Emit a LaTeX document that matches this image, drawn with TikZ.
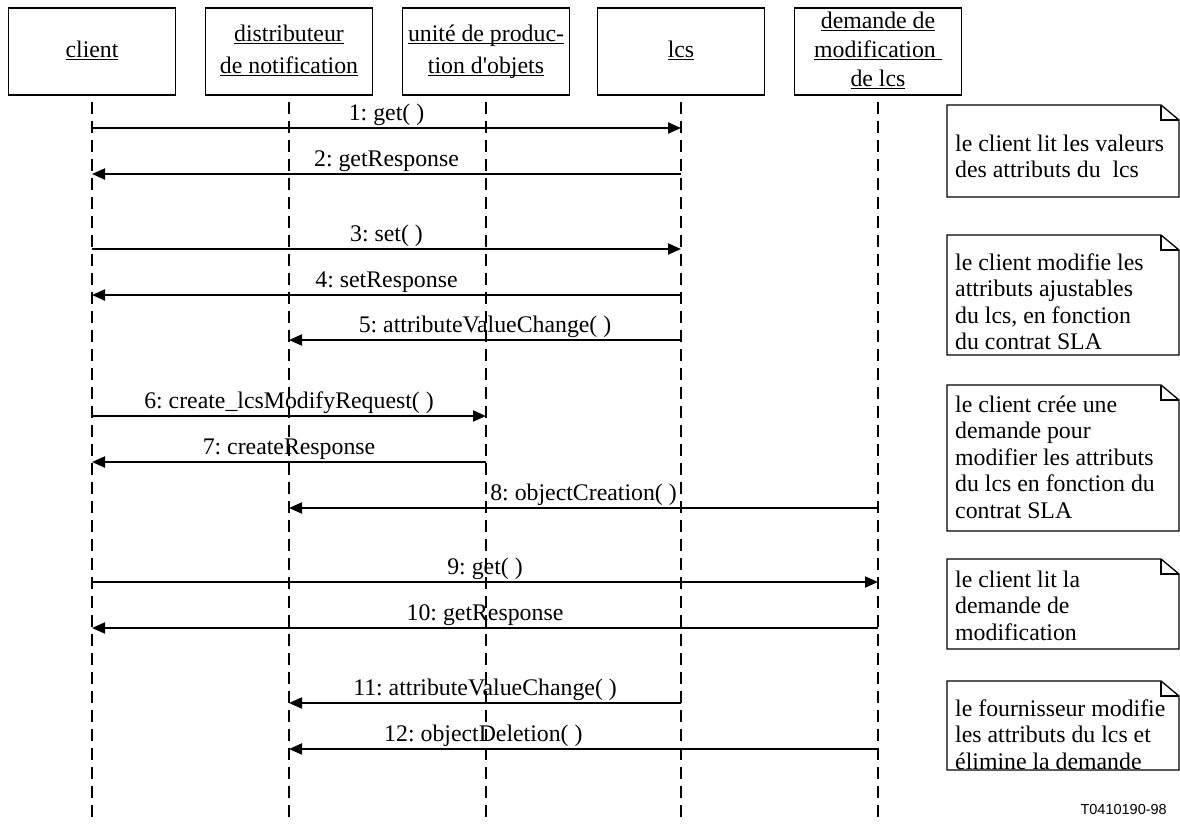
\documentclass[tikz,border=0pt]{standalone}
\usepackage{fontspec}
\setmainfont{Liberation Serif}
\newfontfamily\sansf{Liberation Sans}
\usetikzlibrary{arrows.meta}
\newcommand\headfont{\fontsize{23.8}{32}\selectfont}
\newcommand\headfontb{\fontsize{23.8}{29}\selectfont}
\newcommand\lblfont{\fontsize{23.8}{26.6}\selectfont}
\newcommand\ulw[1]{\underline{\smash{#1}}}
\frenchspacing
\begin{document}
\frenchspacing
\begin{tikzpicture}[x=1pt,y=-1pt,
  head/.style={draw, line width=1.3pt, minimum width=167pt, minimum height=87pt, inner sep=0pt, font=\headfont},
  life/.style={line width=2pt, dash pattern=on 12pt off 7pt},
  msg/.style={line width=2pt, -{Triangle[length=13pt,width=11pt]}},
  lbl/.style={font=\lblfont, anchor=base, inner sep=0pt, yshift=8pt},
  notebox/.style={anchor=north west, minimum width=232pt, inner sep=0pt, outer sep=0pt},
  noteline/.style={line width=1.3pt},
  notetext/.style={anchor=base west, inner sep=0pt, font=\lblfont}]
\useasboundingbox (0,0) rectangle (1180,823);

% headers
\node[head] (client) at (92,51.5) {\begin{tabular}{@{}c@{}}\ulw{client}\end{tabular}};
\node[head] (dist) at (289,51.5) {\begin{tabular}{@{}c@{}}\ulw{distributeur}\\\ulw{de notification}\end{tabular}};
\node[head] (unite) at (486,51.5) {\begin{tabular}{@{}c@{}}\ulw{unité de produc-}\\\ulw{tion d\textquotesingle objets}\end{tabular}};
\node[head] (lcs) at (681,51.5) {\begin{tabular}{@{}c@{}}\ulw{lcs}\end{tabular}};
\node[head, font=\headfontb] (dem) at (878,51.5) {\begin{tabular}{@{}c@{}}\ulw{demande de}\\\ulw{modification\ }\\\ulw{de lcs}\end{tabular}};

% lifelines
\coordinate (bot) at (0,823);
\foreach \n in {client,dist,unite,lcs,dem}
  \draw[life] ([yshift=-6pt]\n.south) -- (\n |- bot);

% messages
\draw[msg] (client |- 0,128) -- (lcs |- 0,128) node[lbl, midway] {1: get( )};
\draw[msg] (lcs |- 0,174) -- (client |- 0,174) node[lbl, midway] {2: getResponse};
\draw[msg] (client |- 0,249) -- (lcs |- 0,249) node[lbl, midway] {3: set( )};
\draw[msg] (lcs |- 0,295) -- (client |- 0,295) node[lbl, midway] {4: setResponse};
\draw[msg] (lcs |- 0,340) -- (dist |- 0,340) node[lbl, midway] {5: attributeValueChange( )};
\draw[msg] (client |- 0,416) -- (unite |- 0,416) node[lbl, midway] {6: create\_lcsModifyRequest( )};
\draw[msg] (unite |- 0,462) -- (client |- 0,462) node[lbl, midway] {7: createResponse};
\draw[msg] (dem |- 0,508) -- (dist |- 0,508) node[lbl, midway] {8: objectCreation( )};
\draw[msg] (client |- 0,582) -- (dem |- 0,582) node[lbl, midway] {9: get( )};
\draw[msg] (dem |- 0,628) -- (client |- 0,628) node[lbl, midway] {10: getResponse};
\draw[msg] (lcs |- 0,703) -- (dist |- 0,703) node[lbl, midway] {11: attributeValueChange( )};
\draw[msg] (dem |- 0,749) -- (dist |- 0,749) node[lbl, pos=0.67] {12: objectDeletion( )};

% notes
\foreach \nm/\top/\h in {n1/105/92, n2/235/120, n3/385/146, n4/559/90, n5/681/89}{
  \node[notebox, minimum height=\h pt] (\nm) at (947,\top) {};
  \draw[noteline] (\nm.north west) -- ([xshift=-18pt]\nm.north east) -- ([yshift=-15pt]\nm.north east) -- (\nm.south east) -- (\nm.south west) -- cycle;
  \draw[noteline] ([xshift=-18pt]\nm.north east) |- ([yshift=-15pt]\nm.north east);
}
\node[notetext] (t1) at (955,151) {\begin{tabular}[t]{@{}l@{}}le client lit les valeurs\\des attributs du\ \ lcs\end{tabular}};
\node[notetext] (t2) at (955,270) {\begin{tabular}[t]{@{}l@{}}le client modifie les\\attributs ajustables\\du lcs, en fonction\\du contrat SLA\end{tabular}};
\node[notetext] (t3) at (955,412) {\begin{tabular}[t]{@{}l@{}}le client crée une\\demande pour\\modifier les attributs\\du lcs en fonction du\\contrat SLA\end{tabular}};
\node[notetext] (t4) at (955,587) {\begin{tabular}[t]{@{}l@{}}le client lit la\\demande de\\modification\end{tabular}};
\node[notetext] (t5) at (955,716) {\begin{tabular}[t]{@{}l@{}}le fournisseur modifie\\les attributs du lcs et\\élimine la demande\end{tabular}};

\node[anchor=base east, inner sep=0pt, font=\sansf\fontsize{14.5}{16}\selectfont] (ref) at (1167,814) {T0410190-98};
\end{tikzpicture}
\end{document}
